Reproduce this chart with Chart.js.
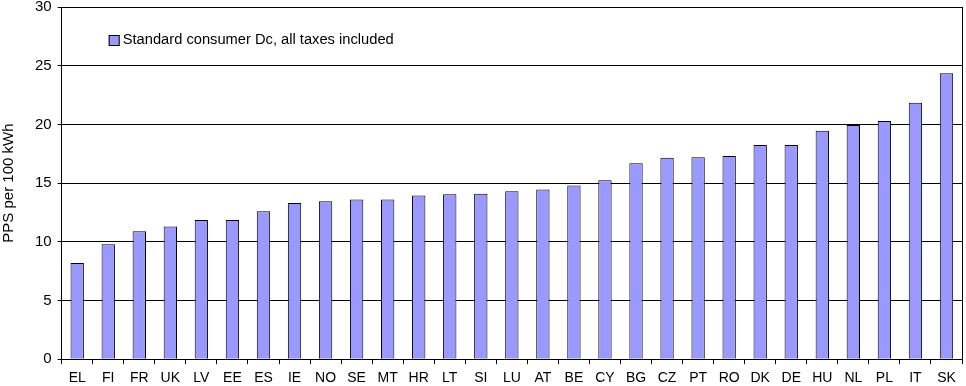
<!DOCTYPE html>
<html>
<head>
<meta charset="utf-8">
<script src="https://cdn.jsdelivr.net/npm/chart.js@4/dist/chart.umd.min.js"></script>
<style>
  html, body { margin: 0; padding: 0; background: #fff; }
  #wrap { width: 966px; height: 386px; }
</style>
</head>
<body>
<div id="wrap"><canvas id="myChart"></canvas></div>
<script>
const countries = ["EL", "FI", "FR", "UK", "LV", "EE", "ES", "IE", "NO", "SE", "MT", "HR", "LT", "SI", "LU",
  "AT", "BE", "CY", "BG", "CZ", "PT", "RO", "DK", "DE", "HU", "NL", "PL", "IT", "SK"];
const prices = [8.2, 9.8, 10.9, 11.3, 11.85, 11.85, 12.6, 13.3, 13.45, 13.6, 13.6, 13.95, 14.05, 14.1, 14.3,
  14.45, 14.8, 15.25, 16.7, 17.15, 17.2, 17.3, 18.25, 18.25, 19.45, 19.95, 20.3, 21.85, 24.35];
const seriesName = "Standard consumer Dc, all taxes included";
const yTicks = [0, 5, 10, 15, 20, 25, 30];

const FONT = "'Liberation Sans', Arial, sans-serif";
const BAR_COLOR = "#9999FF";

// legend drawn inside the plot, top-left like the original
const insideLegend = {
  id: "insideLegend",
  afterDraw(chart) {
    const ctx = chart.ctx;
    const area = chart.chartArea;
    const x = area.left + 47, y = area.top + 33;
    ctx.save();
    ctx.fillStyle = BAR_COLOR;
    ctx.fillRect(x, y - 5, 11, 11);
    ctx.strokeStyle = "#000";
    ctx.lineWidth = 1;
    ctx.strokeRect(x + 0.5, y - 4.5, 10, 10);
    ctx.fillStyle = "#000";
    ctx.font = "14.7px " + FONT;
    ctx.textBaseline = "middle";
    ctx.fillText(seriesName, x + 14, y);
    ctx.restore();
  }
};

new Chart(document.getElementById("myChart"), {
  type: "bar",
  data: {
    labels: countries,
    datasets: [{
      label: seriesName,
      data: prices,
      backgroundColor: BAR_COLOR,
      borderColor: "#000",
      borderWidth: 1,
      barPercentage: 0.43,
      categoryPercentage: 1
    }]
  },
  options: {
    responsive: true,
    maintainAspectRatio: false,
    animation: false,
    layout: { padding: { top: 7, right: 4, bottom: -7, left: 0 } },
    plugins: {
      legend: { display: false },
      tooltip: { enabled: false }
    },
    scales: {
      x: {
        offset: true,
        grid: { offset: true, drawOnChartArea: false, color: "#000", tickLength: 5 },
        border: { color: "#000", width: 1 },
        ticks: { color: "#000", font: { family: FONT, size: 14 }, maxRotation: 0, autoSkip: false, padding: 6 }
      },
      y: {
        min: 0,
        max: 30,
        afterBuildTicks: (axis) => { axis.ticks = yTicks.map(v => ({ value: v })); },
        afterFit: (axis) => { axis.paddingTop = 0; axis.paddingBottom = 0; },
        grid: { color: "#000", tickLength: 4 },
        border: { color: "#000", width: 1 },
        ticks: { color: "#000", font: { family: FONT, size: 15 }, padding: 6 },
        title: { display: true, text: "PPS per 100 kWh", color: "#000", font: { family: FONT, size: 15 }, padding: { top: 0, bottom: 11 } }
      },
      y1: {
        position: "right",
        min: 0,
        max: 30,
        afterFit: (axis) => { axis.paddingTop = 0; axis.paddingBottom = 0; },
        grid: { display: false, tickLength: 0 },
        border: { color: "#000", width: 1 },
        ticks: { display: false, padding: 0 }
      }
    }
  },
  plugins: [insideLegend]
});
</script>
</body>
</html>
